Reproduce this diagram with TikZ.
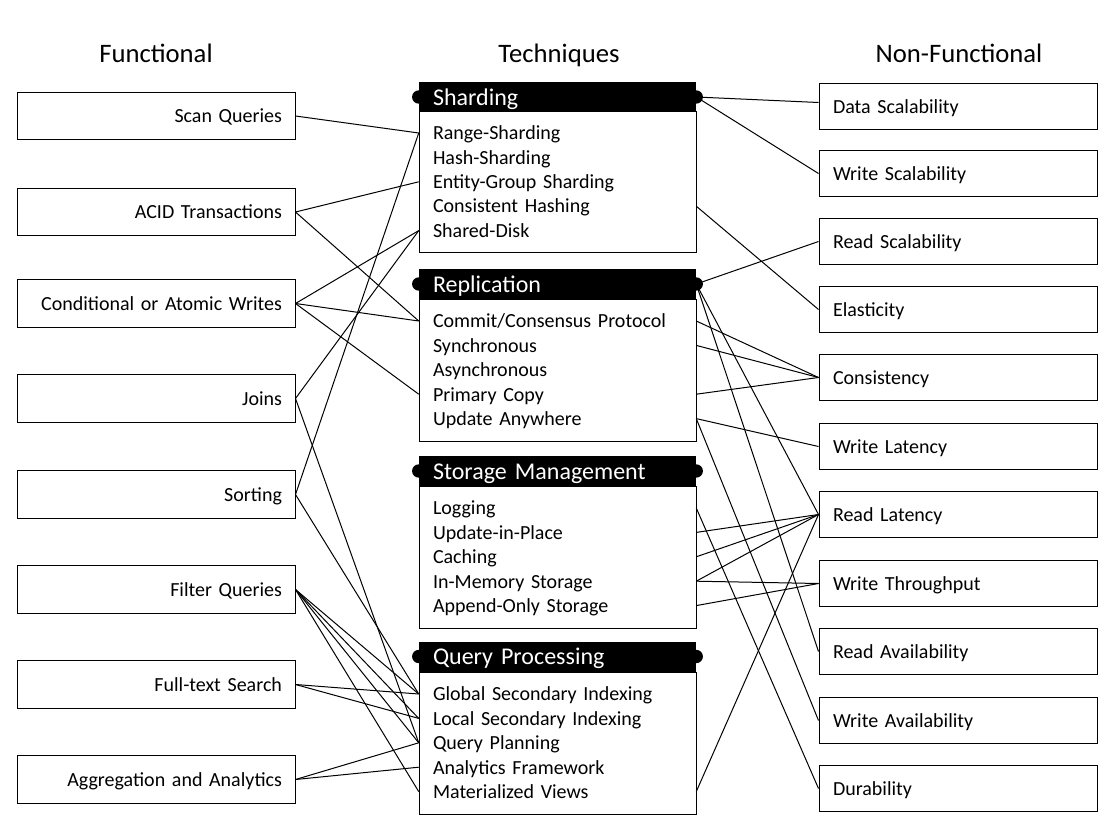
\documentclass[tikz,border=0pt]{standalone}
\usepackage{fontspec}
\setmainfont{Carlito}
\begin{document}
\begin{tikzpicture}[x=0.75pt,y=-0.75pt,
  txt/.style={font=\fontsize{15}{18}\selectfont, text height=11.6pt, text depth=1.4pt},
  lbox/.style={txt, draw, line width=0.75pt, minimum height=35.4pt, text width=189pt, inner xsep=9.75pt, inner ysep=0pt, align=right},
  rbox/.style={txt, draw, line width=0.75pt, minimum height=35.2pt, text width=187.5pt, inner xsep=10.5pt, inner ysep=0pt, align=left},
  body/.style={draw, line width=0.75pt, minimum width=207.75pt, inner sep=0pt},
  head/.style={fill=black, text=white, font=\fontsize{18}{20}\selectfont, text height=13.6pt, text depth=1.4pt, minimum height=22.5pt, text width=186.75pt, inner xsep=10.5pt, inner ysep=0pt, align=left},
  item/.style={txt, text width=186.75pt, inner xsep=10.5pt, inner ysep=0pt, align=left},
  dotn/.style={circle, fill=black, minimum size=10pt, inner sep=0pt},
  title/.style={font=\fontsize{20}{24}\selectfont, text height=14.4pt, text depth=1.4pt},
  conn/.style={line width=0.75pt}
]
\useasboundingbox (0,0) rectangle (1118,838);

% titles
\node[title] (t1) at (156,54) {Functional};
\node[title] (t2) at (559,54) {Techniques};
\node[title] (t3) at (959,54) {Non-Functional};

% technique groups
\node[body, minimum height=105.75pt] (shb) at (557.5,182.5) {};
\node[head] (sh) at (557.5,97) {Sharding};
\node[body, minimum height=106.5pt] (rpb) at (557.5,370) {};
\node[head] (rp) at (557.5,284) {Replication};
\node[body, minimum height=106.5pt] (smb) at (557.5,557) {};
\node[head] (sm) at (557.5,471) {Storage Management};
\node[body, minimum height=106.5pt] (qpb) at (557.5,743) {};
\node[head] (qp) at (557.5,656.5) {Query Processing};

\foreach \n in {sh,rp,sm,qp}{
  \node[dotn] (\n L) at (\n.west) {};
  \node[dotn] (\n R) at (\n.east) {};
}

\node[item] (s1) at (557.5,133) {Range-Sharding};
\node[item] (s2) at (557.5,157.4) {Hash-Sharding};
\node[item] (s3) at (557.5,181.8) {Entity-Group Sharding};
\node[item] (s4) at (557.5,206.2) {Consistent Hashing};
\node[item] (s5) at (557.5,230.6) {Shared-Disk};

\node[item] (r1) at (557.5,321) {Commit/Consensus Protocol};
\node[item] (r2) at (557.5,345.4) {Synchronous};
\node[item] (r3) at (557.5,369.8) {Asynchronous};
\node[item] (r4) at (557.5,394.2) {Primary Copy};
\node[item] (r5) at (557.5,418.6) {Update Anywhere};

\node[item] (m1) at (557.5,508) {Logging};
\node[item] (m2) at (557.5,532.4) {Update-in-Place};
\node[item] (m3) at (557.5,556.8) {Caching};
\node[item] (m4) at (557.5,581.2) {In-Memory Storage};
\node[item] (m5) at (557.5,605.6) {Append-Only Storage};

\node[item] (q1) at (557.5,694) {Global Secondary Indexing};
\node[item] (q2) at (557.5,718.4) {Local Secondary Indexing};
\node[item] (q3) at (557.5,742.8) {Query Planning};
\node[item] (q4) at (557.5,767.2) {Analytics Framework};
\node[item] (q5) at (557.5,791.6) {Materialized Views};

% functional
\node[lbox] (scan) at (156,116) {Scan Queries};
\node[lbox] (acid) at (156,212) {ACID Transactions};
\node[lbox] (cond) at (156,303.5) {Conditional or Atomic Writes};
\node[lbox] (joins) at (156,398.5) {Joins};
\node[lbox] (sort) at (156,494.5) {Sorting};
\node[lbox] (filt) at (156,589.5) {Filter Queries};
\node[lbox] (full) at (156,684.5) {Full-text Search};
\node[lbox] (aggr) at (156,779.5) {Aggregation and Analytics};

% non-functional
\node[rbox] (dsc) at (958,106.5) {Data Scalability};
\node[rbox] (wsc) at (958,173.5) {Write Scalability};
\node[rbox] (rsc) at (958,241.5) {Read Scalability};
\node[rbox] (ela) at (958,309.5) {Elasticity};
\node[rbox] (con) at (958,377.5) {Consistency};
\node[rbox] (wla) at (958,446.5) {Write Latency};
\node[rbox] (rla) at (958,514.5) {Read Latency};
\node[rbox] (wth) at (958,583.5) {Write Throughput};
\node[rbox] (rav) at (958,651.5) {Read Availability};
\node[rbox] (wav) at (958,720.5) {Write Availability};
\node[rbox] (dur) at (958,788.5) {Durability};

% left connectors
\draw[conn] (scan.east) -- (s1.west);
\draw[conn] (acid.east) -- (s3.west);
\draw[conn] (acid.east) -- (r1.west);
\draw[conn] (cond.east) -- (s5.west);
\draw[conn] (cond.east) -- (r1.west);
\draw[conn] (cond.east) -- (r4.west);
\draw[conn] (joins.east) -- (s5.west);
\draw[conn] (joins.east) -- (q3.west);
\draw[conn] (sort.east) -- (s1.west);
\draw[conn] (sort.east) -- (q1.west);
\draw[conn] (filt.east) -- (q1.west);
\draw[conn] (filt.east) -- (q2.west);
\draw[conn] (filt.east) -- (q3.west);
\draw[conn] (filt.east) -- (q5.west);
\draw[conn] (full.east) -- (q1.west);
\draw[conn] (full.east) -- (q2.west);
\draw[conn] (aggr.east) -- (q3.west);
\draw[conn] (aggr.east) -- (q4.west);

% right connectors
\draw[conn] (shR.center) -- ([yshift=3pt]dsc.west);
\draw[conn] (shR.center) -- (wsc.west);
\draw[conn] (s4.east) -- (ela.west);
\draw[conn] (rpR.center) -- (rsc.west);
\draw[conn] (rpR.center) -- (rla.west);
\draw[conn] (rpR.center) -- (rav.west);
\draw[conn] (r1.east) -- (con.west);
\draw[conn] (r2.east) -- (con.west);
\draw[conn] (r4.east) -- (con.west);
\draw[conn] (r5.east) -- (wla.west);
\draw[conn] (r5.east) -- (wav.west);
\draw[conn] (m1.east) -- (dur.west);
\draw[conn] (m2.east) -- (rla.west);
\draw[conn] (m3.east) -- (rla.west);
\draw[conn] (m4.east) -- (rla.west);
\draw[conn] (m4.east) -- (wth.west);
\draw[conn] (m5.east) -- (wth.west);
\draw[conn] (q5.east) -- (rla.west);
\end{tikzpicture}
\end{document}
